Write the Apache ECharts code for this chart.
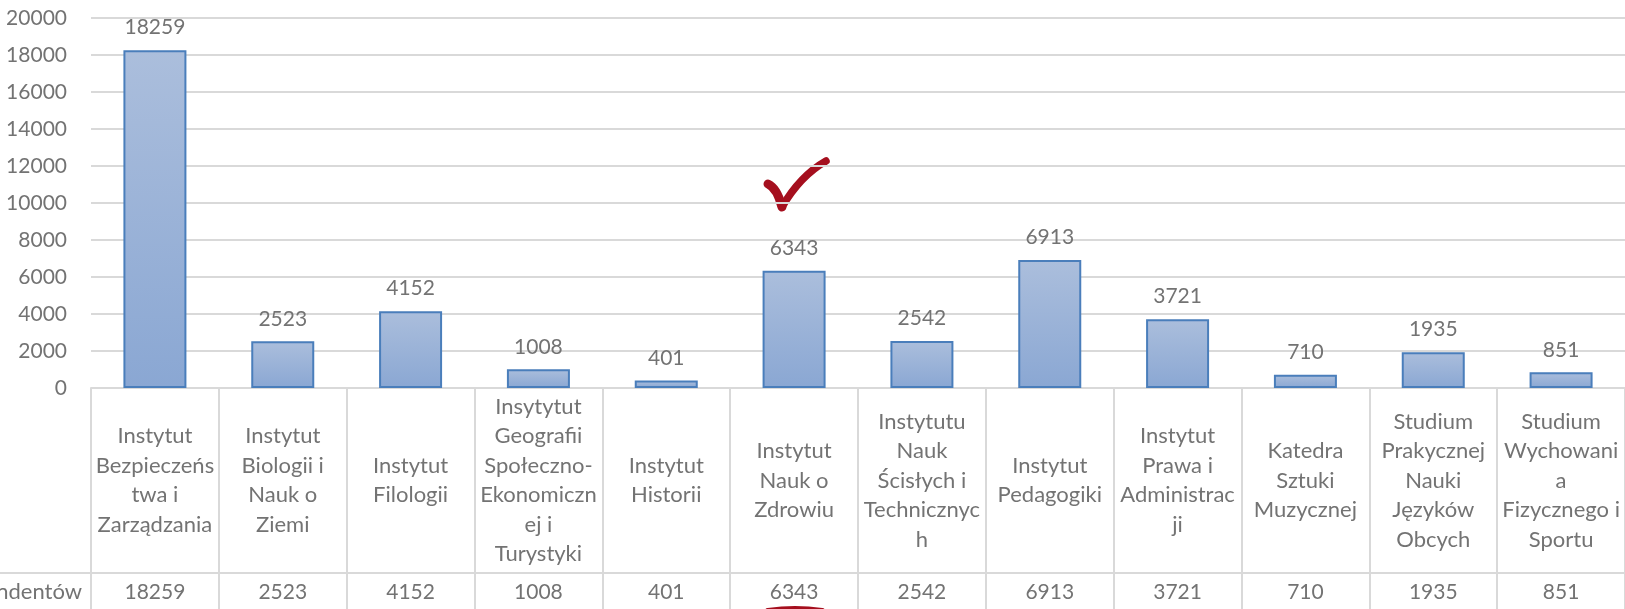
<!DOCTYPE html>
<html>
<head>
<meta charset="utf-8">
<script src="https://cdn.jsdelivr.net/npm/echarts@6/dist/echarts.min.js"></script>
<style>
html,body{margin:0;padding:0;background:#fff;}
#chart{width:1625px;height:609px;}
</style>
</head>
<body>
<div id="chart"></div>
<script>
const categories = [
  "Instytut\nBezpieczeńs\ntwa i\nZarządzania",
  "Instytut\nBiologii i\nNauk o\nZiemi",
  "Instytut\nFilologii",
  "Insytytut\nGeografii\nSpołeczno-\nEkonomiczn\nej i\nTurystyki",
  "Instytut\nHistorii",
  "Instytut\nNauk o\nZdrowiu",
  "Instytutu\nNauk\nŚcisłych i\nTechnicznyc\nh",
  "Instytut\nPedagogiki",
  "Instytut\nPrawa i\nAdministrac\nji",
  "Katedra\nSztuki\nMuzycznej",
  "Studium\nPrakycznej\nNauki\nJęzyków\nObcych",
  "Studium\nWychowani\na\nFizycznego i\nSportu"
];
const values = [18259, 2523, 4152, 1008, 401, 6343, 2542, 6913, 3721, 710, 1935, 851];
const seriesName = "Liczba respondentów";
const yTicks = {min: 0, max: 20000, interval: 2000};

const FONT = "Lato";
const TXT = "#737373";
const LINE = "#d9d9d9";
const MARK = "#a50f1e";
const FS_TEXT = 22;
const FS_NUM = 21;

const chart = echarts.init(document.getElementById('chart'), null, {renderer: 'canvas'});
chart.setOption({
  animation: false,
  backgroundColor: '#ffffff',
  grid: {left: 91, top: 18, width: 1536, height: 370, containLabel: false},
  xAxis: [
    {
      type: 'category',
      data: categories,
      position: 'bottom',
      boundaryGap: true,
      axisLine: {show: true, lineStyle: {color: LINE, width: 2}},
      axisTick: {show: true, length: 230, interval: 0, lineStyle: {color: LINE, width: 2}},
      axisLabel: {
        interval: 0, margin: 92.5, verticalAlign: 'middle', align: 'center',
        fontFamily: FONT, fontSize: FS_TEXT, lineHeight: 29.5, color: TXT, hideOverlap: false
      },
      splitLine: {show: false}
    },
    {
      type: 'category',
      data: values.map(v => String(v)),
      position: 'bottom',
      offset: 185,
      boundaryGap: true,
      axisLine: {show: true, lineStyle: {color: LINE, width: 2}},
      axisTick: {show: false},
      axisLabel: {
        interval: 0, margin: 19, verticalAlign: 'middle',
        fontFamily: FONT, fontSize: FS_NUM, color: TXT
      }
    }
  ],
  yAxis: {
    type: 'value',
    min: yTicks.min, max: yTicks.max, interval: yTicks.interval,
    axisLine: {show: false},
    axisTick: {show: false},
    axisLabel: {margin: 24, fontFamily: FONT, fontSize: FS_NUM, color: TXT,
                formatter: v => String(v)},
    splitLine: {show: true, lineStyle: {color: LINE, width: 2}}
  },
  series: [{
    name: seriesName,
    type: 'bar',
    xAxisIndex: 0,
    data: values,
    barWidth: 63,
    itemStyle: {
      color: {type: 'linear', x: 0, y: 0, x2: 0, y2: 1, colorStops: [
        {offset: 0, color: '#abbedc'},
        {offset: 1, color: '#8aa7d3'}
      ]},
      borderColor: '#4a7ebb',
      borderWidth: 2
    },
    label: {
      show: true, position: 'top', distance: 12,
      fontFamily: FONT, fontSize: FS_NUM, color: TXT
    }
  }],
  graphic: [
    {type: 'line', silent: true, shape: {x1: 0, y1: 573, x2: 92, y2: 573},
     style: {stroke: LINE, lineWidth: 2}},
    {type: 'text', silent: true, x: 82, y: 592,
     style: {text: seriesName, textAlign: 'right', textVerticalAlign: 'middle',
             font: FS_TEXT + 'px ' + FONT, fill: TXT}},
    {type: 'bezierCurve', silent: true,
     shape: {x1: 768, y1: 184, cpx1: 777, cpy1: 188, x2: 782, y2: 207},
     style: {stroke: MARK, fill: null, lineWidth: 9, lineCap: 'round'}},
    {type: 'bezierCurve', silent: true,
     shape: {x1: 782, y1: 207, cpx1: 800, cpy1: 176, x2: 826, y2: 161},
     style: {stroke: MARK, fill: null, lineWidth: 7.5, lineCap: 'round'}},
    {type: 'bezierCurve', silent: true,
     shape: {x1: 768, y1: 611, cpx1: 795, cpy1: 607, x2: 822, y2: 611},
     style: {stroke: MARK, fill: null, lineWidth: 6, lineCap: 'round'}}
  ]
});
</script>
</body>
</html>
